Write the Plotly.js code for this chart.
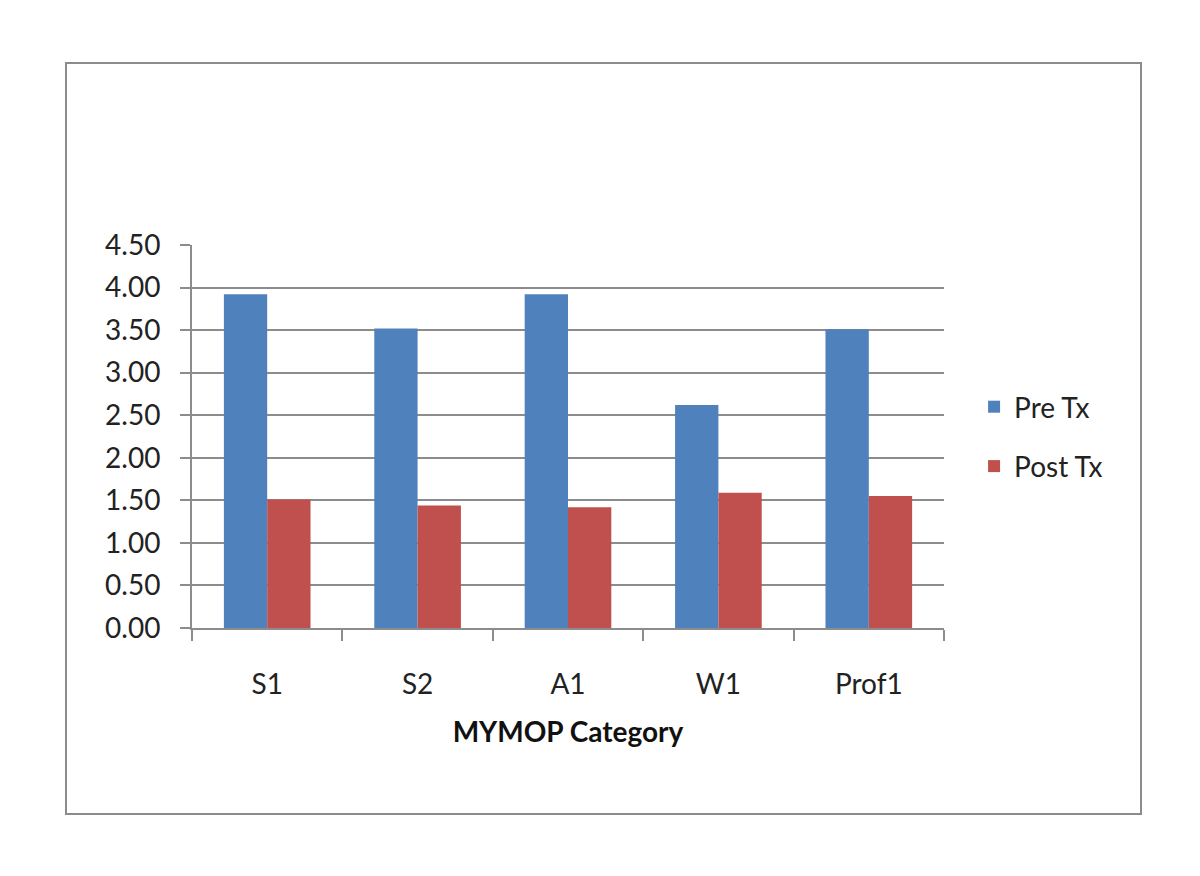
<!DOCTYPE html>
<html>
<head>
<meta charset="utf-8">
<script src="https://cdn.plot.ly/plotly-3.0.1.min.js"></script>
<style>
  body { margin: 0; background: #fff; }
  #frame { position: absolute; left: 65px; top: 62px; width: 1073px; height: 749px; border: 2px solid #8c8c8c; }
  #chart { position: absolute; left: 0; top: 0; width: 1200px; height: 876px; }
</style>
</head>
<body>
<div id="frame"></div>
<div id="chart"></div>
<script>
var categories = ['S1', 'S2', 'A1', 'W1', 'Prof1'];
var preTx = [3.92, 3.52, 3.92, 2.62, 3.51];
var postTx = [1.51, 1.44, 1.42, 1.59, 1.55];
var yTicks = [0, 0.5, 1, 1.5, 2, 2.5, 3, 3.5, 4, 4.5];

// calibri-ish look, tall & narrow in the picture
var fontFam = '"Liberation Sans Narrow", "Arial Narrow", Lato, sans-serif';

var trace1 = {
    x: categories,
    y: preTx,
    type: 'bar',
    name: 'Pre Tx',
    legendgroup: 'pre',
    marker: { color: '#4f81bd' }
};

var trace2 = {
    x: categories,
    y: postTx,
    type: 'bar',
    name: 'Post Tx',
    legendgroup: 'post',
    marker: { color: '#c0504d' }
};

var layout = {
    width: 1200,
    height: 876,
    paper_bgcolor: 'rgba(0,0,0,0)',
    plot_bgcolor: 'rgba(0,0,0,0)',
    margin: { l: 192, r: 256, t: 245, b: 248 },
    barmode: 'group',
    bargap: 0.424,
    bargroupgap: 0,
    font: { family: fontFam, size: 28, color: '#222' },
    xaxis: {
        type: 'category',
        tickson: 'boundaries',
        ticks: 'outside',
        ticklen: 11,
        tickcolor: '#8c8c8c',
        tickwidth: 2,
        showline: true,
        linecolor: '#8c8c8c',
        linewidth: 2,
        showgrid: false,
        ticklabelstandoff: 30,
        title: { text: '<b>MYMOP Category</b>', font: { size: 28, color: '#111' }, standoff: 24 }
    },
    yaxis: {
        range: [0, 4.5],
        tickvals: yTicks,
        tickformat: '.2f',
        ticks: 'outside',
        ticklen: 10,
        tickcolor: '#8c8c8c',
        tickwidth: 2,
        showline: true,
        linecolor: '#8c8c8c',
        linewidth: 2,
        gridcolor: '#8c8c8c',
        gridwidth: 2,
        zeroline: false,
        ticklabelstandoff: 14
    },
    showlegend: true,
    legend: {
        x: 1.04,
        y: 0.5,
        xanchor: 'left',
        yanchor: 'middle',
        traceorder: 'grouped',
        tracegroupgap: 20,
        font: { size: 28, color: '#222' },
        itemwidth: 30
    }
};

Plotly.newPlot('chart', [trace1, trace2], layout, { displayModeBar: false });
</script>
</body>
</html>
